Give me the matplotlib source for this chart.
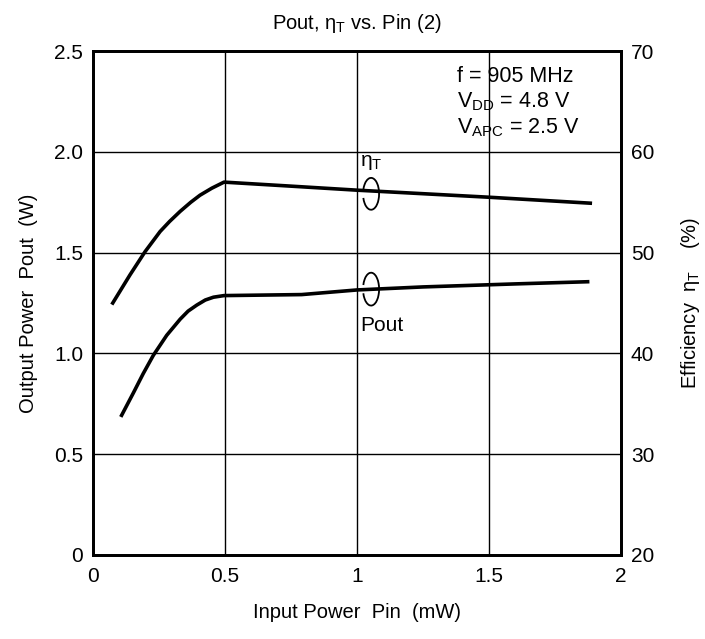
import matplotlib
matplotlib.use("Agg")
import matplotlib.pyplot as plt
from matplotlib.patches import Arc

plt.rcParams['font.family'] = ['Liberation Sans', 'DejaVu Sans']
plt.rcParams['mathtext.fontset'] = 'custom'
plt.rcParams['mathtext.rm'] = 'Liberation Sans'
plt.rcParams['mathtext.it'] = 'Liberation Sans'

# Data
pin_pout = [0.105, 0.153, 0.19, 0.228, 0.279, 0.33, 0.36, 0.393, 0.425, 0.456, 0.496,
            0.79, 1.0, 1.25, 1.6, 1.88]
pout_w = [0.685, 0.805, 0.90, 0.99, 1.09, 1.17, 1.21, 1.24, 1.265, 1.279, 1.287,
          1.292, 1.315, 1.33, 1.345, 1.356]

pin_eta = [0.071, 0.14, 0.197, 0.254, 0.29, 0.33, 0.37, 0.405, 0.45, 0.496,
           0.75, 1.0, 1.5, 1.89]
eta_pct = [44.85, 47.8, 50.1, 52.1, 53.1, 54.1, 55.0, 55.7, 56.4, 57.0,
           56.6, 56.2, 55.5, 54.9]

x_ticks = [0, 0.5, 1, 1.5, 2]
x_labels = ['0', '0.5', '1', '1.5', '2']
y_ticks = [0, 0.5, 1.0, 1.5, 2.0, 2.5]
y_labels = ['0', '0.5', '1.0', '1.5', '2.0', '2.5']
y2_ticks = [20, 30, 40, 50, 60, 70]
y2_labels = ['20', '30', '40', '50', '60', '70']

fig = plt.figure(figsize=(7.05, 6.39), dpi=100)
ax = fig.add_axes([0.132, 0.1315, 0.749, 0.7885])
ax2 = ax.twinx()

ax.set_xlim(0, 2)
ax.set_ylim(0, 2.5)
ax2.set_ylim(20, 70)

ax.set_xticks(x_ticks)
ax.set_xticklabels(x_labels)
ax.set_yticks(y_ticks)
ax.set_yticklabels(y_labels)
ax2.set_yticks(y2_ticks)
ax2.set_yticklabels(y2_labels)

ax.grid(True, color='black', linewidth=1.0)
ax.set_axisbelow(True)
for a in (ax, ax2):
    for s in a.spines.values():
        s.set_linewidth(2.0)
        s.set_color('black')
    a.tick_params(length=0, labelsize=15, pad=7, colors='black')
ax.tick_params(axis='x', pad=9)

ax.plot(pin_pout, pout_w, color='black', linewidth=2.6, solid_capstyle='butt')
ax2.plot(pin_eta, eta_pct, color='black', linewidth=2.6, solid_capstyle='butt')

# annotation ellipses
ax.add_patch(Arc((1.053, 1.792), 0.0606, 0.158, theta1=-145, theta2=145,
                 color='black', linewidth=1.3))
ax.add_patch(Arc((1.053, 1.319), 0.0606, 0.163, theta1=-145, theta2=145,
                 color='black', linewidth=1.3))
ax.text(1.012, 1.945, r'$\eta_\mathregular{T}$', fontsize=15, va='center', ha='left')
ax.text(1.012, 1.139, 'Pout', fontsize=15, va='center', ha='left')

ax.text(1.379, 2.376, 'f = 905 MHz', fontsize=15.5, va='center', ha='left')
ax.text(1.379, 2.248, r'V$_\mathregular{DD}$ = 4.8 V', fontsize=15.5, va='center', ha='left')
ax.text(1.379, 2.119, r'V$_\mathregular{APC}$ = 2.5 V', fontsize=15.5, va='center', ha='left')

ax.set_xlabel('Input Power  Pin  (mW)', fontsize=14.5, labelpad=12)
ax.set_ylabel('Output Power  Pout  (W)', fontsize=14.5, labelpad=12)
ax2.set_ylabel(r'Efficiency  $\eta_\mathregular{T}$    (%)', fontsize=14.5, labelpad=18,
               rotation=90)
ax.set_title(r'Pout, $\eta_\mathregular{T}$ vs. Pin (2)', fontsize=14.5, pad=16)

fig.savefig('out.png', dpi=100)
